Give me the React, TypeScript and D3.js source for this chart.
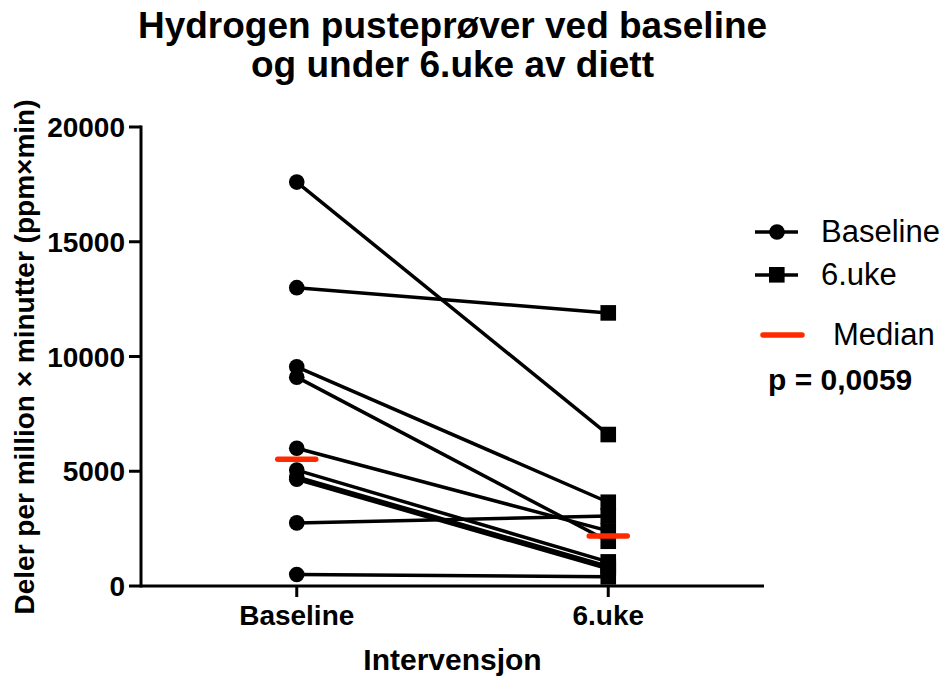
import * as d3 from 'd3'

// paired measurements, one entry per subject
const groups = ['Baseline', '6.uke']
const baselineValues = [17600, 13000, 9550, 9100, 6000, 5050, 4750, 4650, 2750, 500]
const week6Values = [6600, 11900, 3650, 1950, 2400, 1050, 850, 750, 3050, 400]
const yTicks = [0, 5000, 10000, 15000, 20000]

const width = 946
const height = 679
const margin = { left: 141, right: 182, top: 127, bottom: 93 }
const font = '"Liberation Sans", Arial, sans-serif'
const red = '#ff2a00'

export default function App() {
  const x = d3.scaleBand().domain(groups).range([margin.left, width - margin.right])
  const y = d3.scaleLinear().domain([0, 20000]).range([height - margin.bottom, margin.top])
  const cx = (g: string) => (x(g) as number) + x.bandwidth() / 2

  const medians = [d3.median(baselineValues) as number, d3.median(week6Values) as number]
  const y0 = y(0)
  const midX = (margin.left + width - margin.right) / 2

  return (
    <svg width={width} height={height} style={{ position: 'absolute', left: 0, top: 0, background: '#fff' }}
      fontFamily={font}>
      {/* title */}
      <text x={midX} y={37.5} textAnchor="middle" fontSize={37} fontWeight="bold">Hydrogen pusteprøver ved baseline</text>
      <text x={midX} y={77} textAnchor="middle" fontSize={37} fontWeight="bold">og under 6.uke av diett</text>

      {/* y axis */}
      <line x1={margin.left} x2={margin.left} y1={y(20000) - 1.5} y2={y0 + 1.5} stroke="#000" strokeWidth={3} />
      {yTicks.map(t => (
        <g key={t}>
          <line x1={margin.left - 12} x2={margin.left} y1={y(t)} y2={y(t)} stroke="#000" strokeWidth={3} />
          <text x={margin.left - 16} y={y(t)} dy="0.36em" textAnchor="end" fontSize={28} fontWeight="bold">{t}</text>
        </g>
      ))}
      <text transform={`translate(34,357) rotate(-90)`} textAnchor="middle" fontSize={28} fontWeight="bold">
        Deler per million × minutter (ppm×min)
      </text>

      {/* x axis */}
      <line x1={margin.left} x2={width - margin.right} y1={y0} y2={y0} stroke="#000" strokeWidth={3} />
      {groups.map(g => (
        <g key={g}>
          <line x1={cx(g)} x2={cx(g)} y1={y0} y2={y0 + 11} stroke="#000" strokeWidth={3} />
          <text x={cx(g)} y={625} textAnchor="middle" fontSize={28} fontWeight="bold">{g}</text>
        </g>
      ))}
      <text x={midX} y={670} textAnchor="middle" fontSize={30} fontWeight="bold">Intervensjon</text>

      {/* paired lines */}
      {baselineValues.map((v, i) => (
        <line key={'l' + i} x1={cx(groups[0])} y1={y(v)} x2={cx(groups[1])} y2={y(week6Values[i])}
          stroke="#000" strokeWidth={3.5} />
      ))}
      {baselineValues.map((v, i) => (
        <circle key={'c' + i} cx={cx(groups[0])} cy={y(v)} r={7.8} fill="#000" />
      ))}
      {week6Values.map((v, i) => (
        <rect key={'s' + i} x={cx(groups[1]) - 7.8} y={y(v) - 7.8} width={15.6} height={15.6} fill="#000" />
      ))}

      {/* medians */}
      {groups.map((g, i) => (
        <line key={'m' + g} x1={cx(g) - 19} x2={cx(g) + 19} y1={y(medians[i])} y2={y(medians[i])}
          stroke={red} strokeWidth={5.5} strokeLinecap="round" />
      ))}

      {/* legend */}
      <line x1={755} x2={798} y1={232} y2={232} stroke="#000" strokeWidth={3.5} />
      <circle cx={777} cy={232} r={7.8} fill="#000" />
      <text x={821} y={242} fontSize={31}>Baseline</text>
      <line x1={755} x2={798} y1={275} y2={275} stroke="#000" strokeWidth={3.5} />
      <rect x={769} y={267} width={15.6} height={15.6} fill="#000" />
      <text x={821} y={285} fontSize={31}>6.uke</text>
      <line x1={763} x2={802} y1={335} y2={335} stroke={red} strokeWidth={5.5} strokeLinecap="round" />
      <text x={833} y={345} fontSize={31}>Median</text>
      <text x={768} y={390} fontSize={30} fontWeight="bold">p = 0,0059</text>
    </svg>
  )
}
